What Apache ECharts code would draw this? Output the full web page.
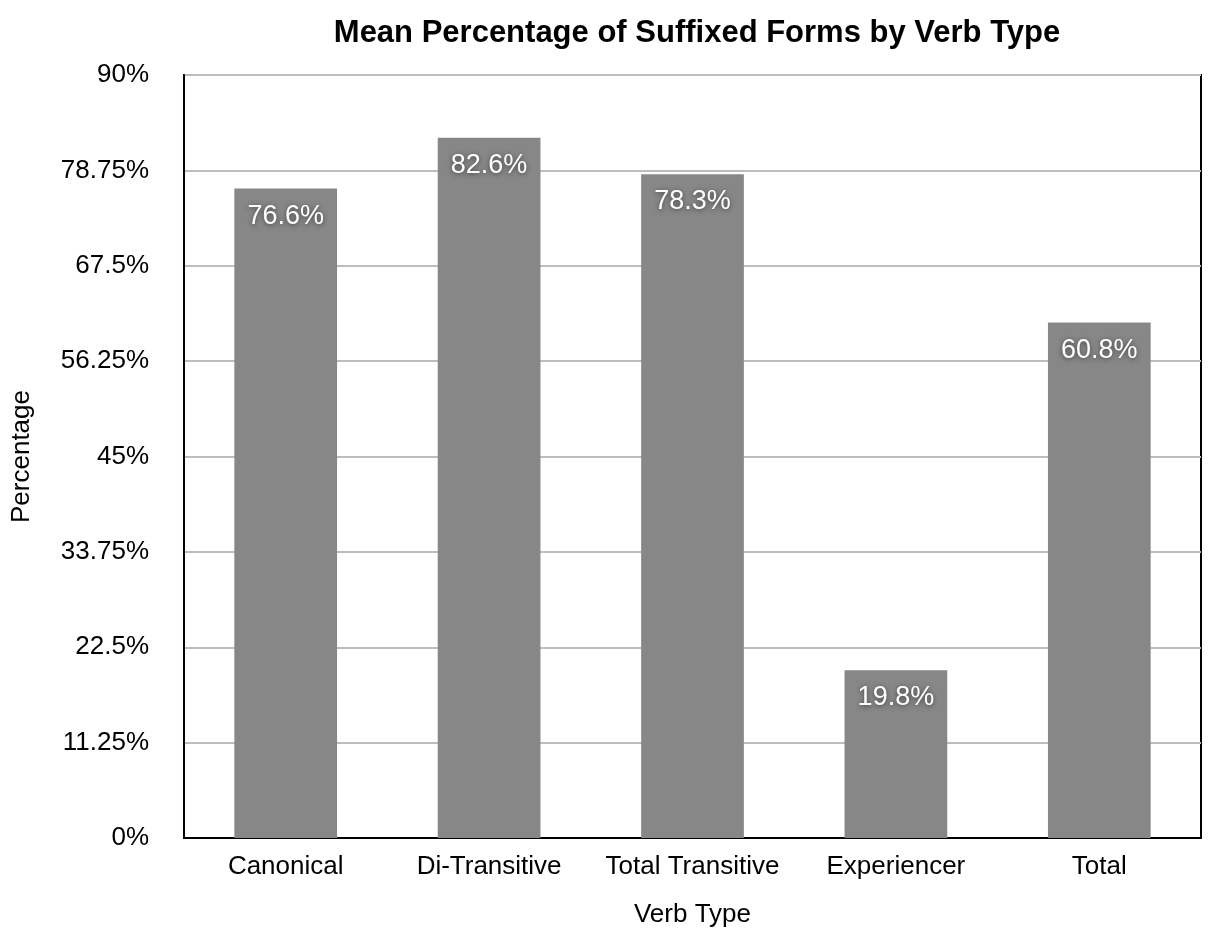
<!DOCTYPE html>
<html>
<head>
<meta charset="utf-8">
<script src="https://cdn.jsdelivr.net/npm/echarts@6/dist/echarts.min.js"></script>
<style>
  html, body { margin: 0; padding: 0; background: #fff; }
  #chart { width: 1208px; height: 931px; }
</style>
</head>
<body>
<div id="chart"></div>
<script>
// Verb types and their mean share of suffixed forms (%)
const categories = ['Canonical', 'Di-Transitive', 'Total Transitive', 'Experiencer', 'Total'];
const meanPercent = [76.6, 82.6, 78.3, 19.8, 60.8];
const yTicks = ['0%', '11.25%', '22.5%', '33.75%', '45%', '56.25%', '67.5%', '78.75%', '90%'];

const FONT = '"Liberation Sans", Arial, Helvetica, sans-serif';
const chart = echarts.init(document.getElementById('chart'));

chart.setOption({
  backgroundColor: '#ffffff',
  animation: false,
  title: {
    text: 'Mean Percentage of Suffixed Forms by Verb Type',
    left: 692,
    textAlign: 'center',
    top: 13,
    textStyle: { fontFamily: FONT, fontSize: 31, fontWeight: 'bold', color: '#000' }
  },
  grid: {
    left: 184, right: 7, top: 75, bottom: 93,
    outerBoundsMode: 'none',
    containLabel: false,
    show: true, borderColor: '#000', borderWidth: 2, backgroundColor: 'transparent'
  },
  xAxis: {
    type: 'category',
    data: categories,
    name: 'Verb Type',
    nameLocation: 'middle',
    nameGap: 64,
    nameTextStyle: { fontFamily: FONT, fontSize: 26, color: '#000' },
    axisLine: { show: true, lineStyle: { color: '#000', width: 2 } },
    axisTick: { show: false },
    axisLabel: { interval: 0, hideOverlap: false, fontFamily: FONT, fontSize: 26, color: '#000', margin: 16 }
  },
  yAxis: {
    type: 'value',
    min: 0,
    max: 90,
    interval: 11.25,
    name: 'Percentage',
    nameLocation: 'middle',
    nameGap: 149,
    nameRotate: 90,
    nameTextStyle: { fontFamily: FONT, fontSize: 26, color: '#000' },
    axisLine: { show: true, lineStyle: { color: '#000', width: 2 } },
    axisTick: { show: false },
    axisLabel: {
      fontFamily: FONT, fontSize: 26, color: '#000', margin: 35,
      formatter: (v) => yTicks[Math.round(v / 11.25)]
    },
    splitLine: { show: true, lineStyle: { color: '#bdbdbd', width: 2 } }
  },
  series: [{
    type: 'bar',
    data: meanPercent,
    barWidth: '50.5%',
    itemStyle: { color: '#878787' },
    label: {
      show: true,
      position: 'insideTop',
      distance: 14,
      formatter: (p) => p.value.toFixed(1) + '%',
      fontFamily: FONT,
      fontSize: 27,
      color: '#ffffff',
      textShadowColor: 'rgba(0,0,0,0.55)',
      textShadowBlur: 5,
      textShadowOffsetY: 1
    }
  }]
});
</script>
</body>
</html>
